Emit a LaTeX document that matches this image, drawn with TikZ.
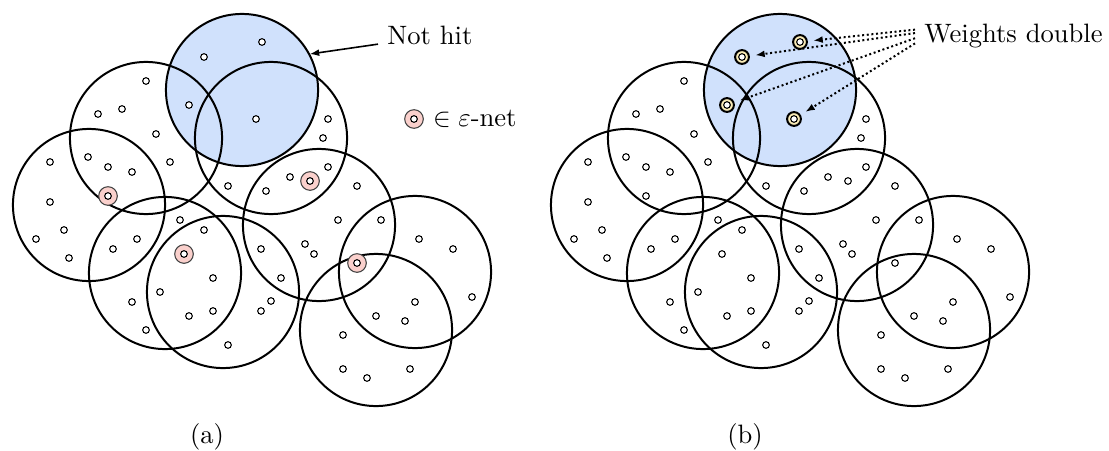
\documentclass[tikz,border=0pt]{standalone}
\usepackage{amsmath,amssymb}
\usetikzlibrary{arrows.meta,positioning}

\definecolor{hitblue}{RGB}{208,225,252}
\definecolor{netpink}{RGB}{250,208,204}
\definecolor{wtyellow}{RGB}{248,234,182}

% ranges (centres) and sample points, in pixels of the figure
\newcommand{\rangelist}{242/90,146/138,271/138,89/205,165/273,223/292,319/225,415/272,376/330}
\newcommand{\plainlist}{146/81,98/114,122/109,328/119,323/138,156/134,88/157,108/167,132/172,
  170/162,50/162,328/167,290/177,266/191,228/186,357/186,50/202,64/230,36/239,69/258,113/249,
  137/239,180/220,204/230,213/278,160/292,132/302,213/311,189/316,146/330,228/345,261/249,
  281/278,305/244,314/254,271/301,261/311,338/220,343/335,343/369,367/378,381/220,419/239,
  453/249,472/297,415/302,376/316,405/321,410/369}
\newcommand{\heavylist}{262/42,204/57,189/105,256/119}
\newcommand{\netlist}{108/196,310/181,184/254,357/263}

\begin{document}
\begin{tikzpicture}[x=0.376pt, y=-0.376pt, >={Latex[length=3.6pt,width=2.6pt]},
    disc/.style={circle, draw, line width=0.75pt, minimum size=57.2pt, inner sep=0pt},
    hitdisc/.style={circle, fill=hitblue, minimum size=57.2pt, inner sep=0pt},
    pt/.style={circle, draw, fill=white, line width=0.4pt, minimum size=2.5pt, inner sep=0pt},
    netpt/.style={circle, draw=black!75, fill=netpink, line width=0.4pt, minimum size=7pt, inner sep=0pt},
    heavypt/.style={circle, draw, fill=wtyellow, line width=0.75pt, minimum size=5.2pt, inner sep=0pt},
    dotarrow/.style={->, densely dotted, line width=0.75pt, shorten >=2pt}]
  \useasboundingbox (0,0) rectangle (1109,450);
  % ---------------- (a): the net misses one range ----------------
  \node[hitdisc] (hitA) at (242,90) {};
  \foreach \x/\y [count=\i] in \rangelist {
     \node[disc] (ra\i) at (\x,\y) {};
  }
  \foreach \x/\y [count=\i] in \plainlist {
     \node[pt] (pa\i) at (\x,\y) {};
  }
  \foreach \x/\y [count=\i] in \heavylist {
     \node[pt] (ha\i) at (\x,\y) {};
  }
  \foreach \x/\y [count=\i] in \netlist {
     \node[netpt] (na\i) at (\x,\y) {};
     \node[pt] (nai\i) at (\x,\y) {};
  }
  \node[anchor=west] (nothit) at (378,35) {Not hit};
  \draw[->, line width=0.6pt] (nothit.190) -- (hitA.28);
  \node[netpt] (leg) at (414,119) {};
  \node[pt] (legi) at (leg) {};
  \node[right=0pt of leg] (legtxt) {$\in\varepsilon$-net};
  \node (capA) at (207,437) {(a)};
  % ---------------- (b): its points get double weight ----------------
  \begin{scope}[shift={(538,0)}]
    \node[hitdisc] (hitB) at (242,90) {};
    \foreach \x/\y [count=\i] in \rangelist {
       \node[disc] (rb\i) at (\x,\y) {};
    }
    \foreach \x/\y [count=\i] in \plainlist {
       \node[pt] (pb\i) at (\x,\y) {};
    }
    \foreach \x/\y [count=\i] in \netlist {
       \node[pt] (nb\i) at (\x,\y) {};
    }
    \foreach \x/\y [count=\i] in \heavylist {
       \node[heavypt] (wb\i) at (\x,\y) {};
       \node[pt] (wbi\i) at (\x,\y) {};
    }
    \node (capB) at (207,437) {(b)};
  \end{scope}
  \node[anchor=base west] (wdouble) at (915,43) {Weights double};
  \foreach \a/\i in {176/1,178/2,181/3,184/4} {
     \draw[dotarrow] (wdouble.\a) -- (wb\i);
  }
\end{tikzpicture}
\end{document}
